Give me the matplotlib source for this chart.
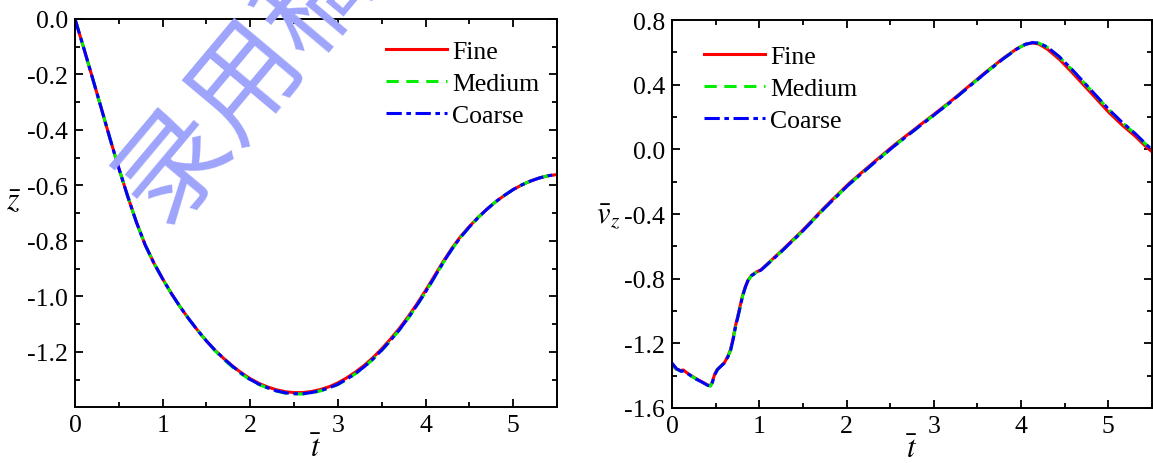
import matplotlib
matplotlib.use('Agg')
import matplotlib.pyplot as plt
from matplotlib.ticker import MultipleLocator, FormatStrFormatter

# 無因次時間與位移 z
t_z = [0.0, 0.1, 0.2, 0.3, 0.4, 0.5, 0.6, 0.7, 0.8, 0.9, 1.0, 1.1, 1.2, 1.3, 1.4, 1.5, 1.6,
       1.7, 1.8, 1.9, 2.0, 2.1, 2.2, 2.3, 2.4, 2.5, 2.6, 2.7, 2.8, 2.9, 3.0, 3.1, 3.2, 3.3,
       3.4, 3.5, 3.6, 3.7, 3.8, 3.9, 4.0, 4.1, 4.2, 4.3, 4.4, 4.5, 4.6, 4.7, 4.8, 4.9, 5.0,
       5.1, 5.2, 5.3, 5.4, 5.5]
z_fine = [0.0, -0.105, -0.213, -0.322, -0.432, -0.538, -0.638, -0.732, -0.814, -0.880,
          -0.937, -0.990, -1.038, -1.082, -1.123, -1.161, -1.195, -1.225, -1.252, -1.276,
          -1.297, -1.314, -1.327, -1.337, -1.344, -1.347, -1.347, -1.343, -1.336, -1.326,
          -1.312, -1.294, -1.273, -1.249, -1.221, -1.189, -1.154, -1.116, -1.074, -1.028,
          -0.979, -0.927, -0.875, -0.827, -0.784, -0.748, -0.715, -0.686, -0.659, -0.636,
          -0.615, -0.598, -0.584, -0.573, -0.565, -0.561]
z_medium = [0.0, -0.105, -0.213, -0.322, -0.432, -0.538, -0.638, -0.732, -0.814, -0.880,
            -0.937, -0.990, -1.038, -1.082, -1.123, -1.161, -1.197, -1.228, -1.256, -1.280,
            -1.301, -1.318, -1.331, -1.342, -1.349, -1.352, -1.352, -1.348, -1.341, -1.331,
            -1.318, -1.300, -1.279, -1.255, -1.227, -1.195, -1.160, -1.122, -1.080, -1.034,
            -0.985, -0.933, -0.880, -0.831, -0.787, -0.750, -0.716, -0.686, -0.659, -0.636,
            -0.615, -0.598, -0.584, -0.573, -0.565, -0.561]
z_coarse = [0.0, -0.105, -0.213, -0.322, -0.432, -0.538, -0.638, -0.732, -0.814, -0.880,
            -0.937, -0.990, -1.038, -1.082, -1.123, -1.161, -1.195, -1.225, -1.253, -1.278,
            -1.300, -1.317, -1.330, -1.341, -1.348, -1.351, -1.351, -1.347, -1.340, -1.330,
            -1.317, -1.299, -1.278, -1.254, -1.226, -1.194, -1.159, -1.121, -1.079, -1.033,
            -0.984, -0.932, -0.879, -0.830, -0.787, -0.750, -0.716, -0.686, -0.659, -0.636,
            -0.615, -0.598, -0.584, -0.573, -0.565, -0.561]

# 無因次速度 v_z
t_v = [0.0, 0.05, 0.10, 0.13, 0.17, 0.22, 0.28, 0.35, 0.41, 0.44, 0.46, 0.49, 0.52, 0.55,
       0.60, 0.64, 0.67, 0.70, 0.72, 0.75, 0.78, 0.81, 0.84, 0.87, 0.91, 0.97, 1.02, 1.25,
       1.49, 1.75, 2.03, 2.30, 2.55, 2.80, 3.00, 3.20, 3.40, 3.60, 3.80, 3.95, 4.05, 4.13,
       4.20, 4.30, 4.44, 4.58, 4.70, 4.85, 5.01, 5.16, 5.31, 5.42, 5.50]
v_fine = [-1.330, -1.360, -1.368, -1.365, -1.382, -1.400, -1.420, -1.440, -1.458, -1.462,
          -1.440, -1.390, -1.360, -1.345, -1.320, -1.280, -1.240, -1.170, -1.110, -1.040,
          -0.970, -0.900, -0.850, -0.810, -0.780, -0.758, -0.745, -0.630, -0.505, -0.358,
          -0.210, -0.085, 0.028, 0.133, 0.216, 0.300, 0.390, 0.480, 0.565, 0.622, 0.650,
          0.658, 0.652, 0.620, 0.556, 0.478, 0.408, 0.320, 0.226, 0.149, 0.080, 0.022, -0.015]
v_medium = [-1.330, -1.360, -1.372, -1.373, -1.384, -1.402, -1.422, -1.442, -1.460, -1.465,
            -1.445, -1.395, -1.363, -1.347, -1.322, -1.284, -1.246, -1.178, -1.118, -1.048,
            -0.978, -0.906, -0.854, -0.813, -0.782, -0.760, -0.747, -0.634, -0.510, -0.363,
            -0.216, -0.091, 0.022, 0.128, 0.211, 0.296, 0.386, 0.476, 0.562, 0.620, 0.650,
            0.660, 0.658, 0.632, 0.570, 0.494, 0.424, 0.336, 0.242, 0.164, 0.094, 0.036, -0.005]
v_coarse = [-1.322, -1.356, -1.372, -1.373, -1.384, -1.402, -1.422, -1.442, -1.460, -1.465,
            -1.445, -1.395, -1.363, -1.347, -1.322, -1.284, -1.246, -1.178, -1.118, -1.048,
            -0.978, -0.906, -0.854, -0.813, -0.782, -0.760, -0.747, -0.634, -0.510, -0.363,
            -0.216, -0.091, 0.022, 0.128, 0.211, 0.296, 0.386, 0.476, 0.562, 0.620, 0.650,
            0.660, 0.658, 0.633, 0.572, 0.496, 0.426, 0.338, 0.244, 0.166, 0.096, 0.038, -0.004]

labels = ['Fine', 'Medium', 'Coarse']

plt.rcParams['font.family'] = ['Liberation Serif', 'DejaVu Serif']
plt.rcParams['mathtext.fontset'] = 'stix'

fig = plt.figure(figsize=(11.53, 4.64), dpi=100)
ax1 = fig.add_axes([75 / 1153, 1 - 408 / 464, 482 / 1153, 388 / 464])
ax2 = fig.add_axes([672 / 1153, 1 - 409 / 464, 480 / 1153, 388 / 464])

styles = [dict(color='red', ls='-'),
          dict(color='#00ee00', ls=(0, (4, 2.5))),
          dict(color='blue', ls=(0, (5, 1.5, 1.5, 1.5)))]

for ys, lab, st in zip([z_fine, z_medium, z_coarse], labels, styles):
    ax1.plot(t_z, ys, lw=2.2, label=lab, **st)
for ys, lab, st in zip([v_fine, v_medium, v_coarse], labels, styles):
    ax2.plot(t_v, ys, lw=2.2, label=lab, **st)

# 座標軸設定
ax1.set_xlim(0, 5.5)
ax1.set_ylim(-1.399, 0.0)
ax1.yaxis.set_major_locator(MultipleLocator(0.2))
ax1.yaxis.set_minor_locator(MultipleLocator(0.1))
ax2.set_xlim(0, 5.5)
ax2.set_ylim(-1.6, 0.8)
ax2.yaxis.set_major_locator(MultipleLocator(0.4))
ax2.yaxis.set_minor_locator(MultipleLocator(0.2))

for ax in (ax1, ax2):
    ax.xaxis.set_major_locator(MultipleLocator(1))
    ax.xaxis.set_minor_locator(MultipleLocator(0.5))
    ax.tick_params(which='both', direction='in', top=True, right=True, width=1.3)
    ax.tick_params(which='major', length=6, labelsize=18.5, pad=5)
    ax.tick_params(which='minor', length=3.5)
    for sp in ax.spines.values():
        sp.set_linewidth(1.4)
    ax.set_facecolor('none')
    ax.yaxis.set_major_formatter(FormatStrFormatter('%.1f'))
    ax.xaxis.set_major_formatter(FormatStrFormatter('%d'))
    ax.set_xlabel(r'$\bar{t}$', fontsize=22)
    ax.xaxis.set_label_coords(0.5, -0.07)

ax1.set_ylabel(r'$\bar{z}$', fontsize=23, rotation=0, va='center', ha='center')
ax1.yaxis.set_label_coords(-0.128, 0.53)
ax2.set_ylabel(r'$\bar{v}_z$', fontsize=22, rotation=0, va='center', ha='center')
ax2.yaxis.set_label_coords(-0.133, 0.495)

leg_kw = dict(frameon=False, fontsize=18.5, handlelength=2.35, handletextpad=0.2,
              labelspacing=0.36, borderaxespad=0.3)
ax1.legend(loc='upper right', bbox_to_anchor=(1.0, 0.993), **leg_kw)
ax2.legend(loc='upper left', bbox_to_anchor=(0.03, 0.983), **leg_kw)

# 浮水印
fig.text(282 / 1153, 1 - 36 / 464, '录用稿件', fontsize=80, color='#9ea4fb',
         family=['Noto Sans CJK SC'], fontweight='light', rotation=50,
         ha='center', va='center', rotation_mode='anchor', zorder=5)

fig.savefig('out.png', dpi=100)
